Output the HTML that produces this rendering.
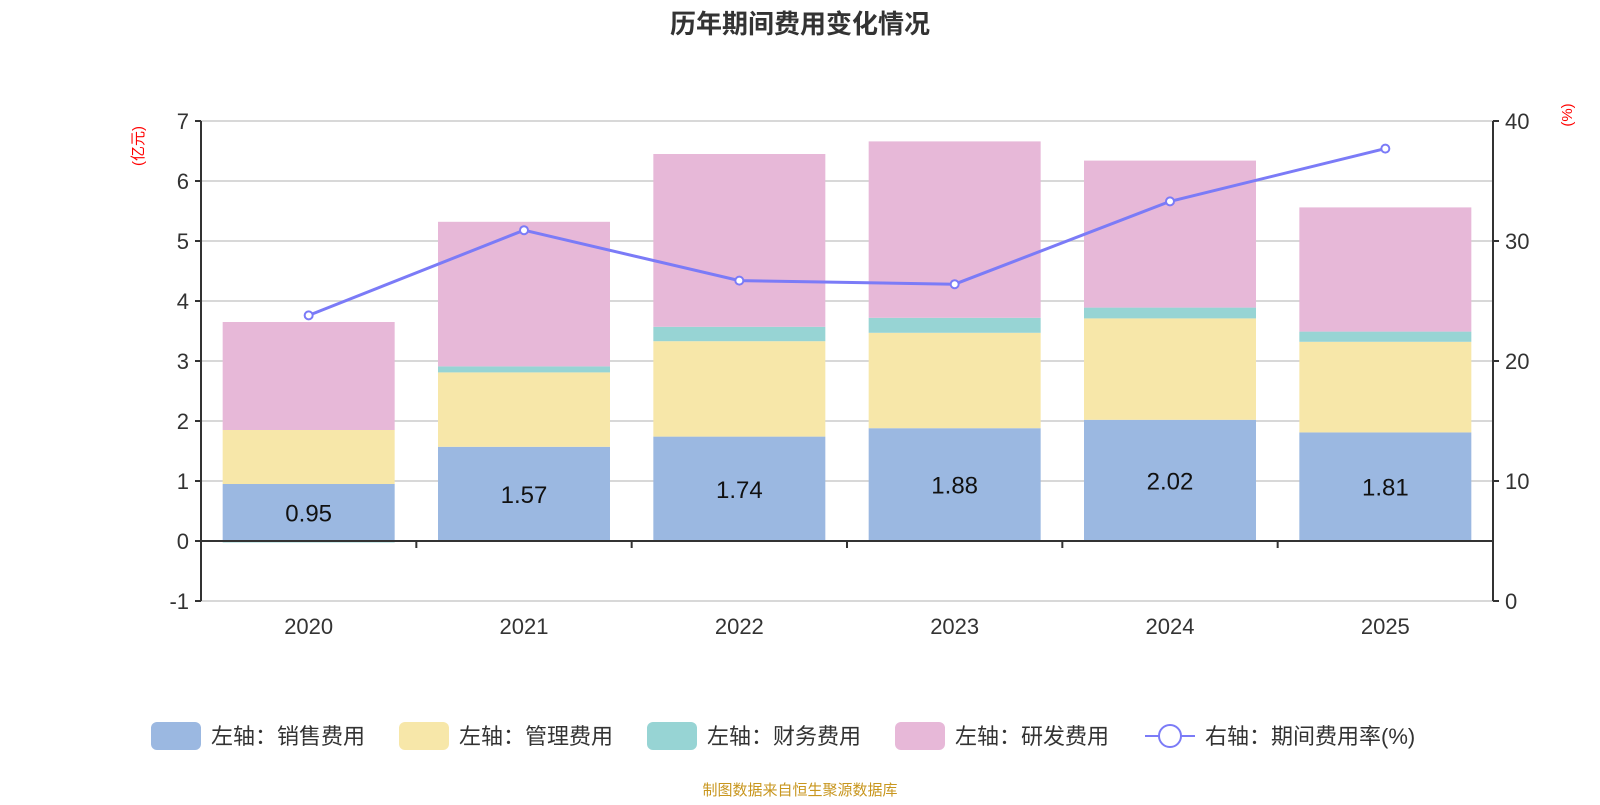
<!DOCTYPE html>
<html><head><meta charset="utf-8"><style>
body{margin:0;background:#fff;}
svg text{font-family:"Liberation Sans","Noto Sans CJK SC",sans-serif;}
</style></head><body>
<svg id="chart" width="1600" height="800" xmlns="http://www.w3.org/2000/svg">
<text x="800" y="33" text-anchor="middle" font-size="26" font-weight="bold" fill="#333">历年期间费用变化情况</text>
<text transform="translate(143,146) rotate(-90)" text-anchor="middle" font-size="15" fill="red">(亿元)</text>
<text transform="translate(1572,115) rotate(-90)" text-anchor="middle" font-size="15" fill="red">(%)</text>
<g id="grid"></g><g id="bars"></g><g id="axes"></g><g id="line"></g><g id="legend"></g>
<text x="800" y="795" text-anchor="middle" font-size="15" fill="#c8961e">制图数据来自恒生聚源数据库</text>
</svg>
<script>
const categories=["2020","2021","2022","2023","2024","2025"];
const sales=[0.95,1.57,1.74,1.88,2.02,1.81];
const admin=[0.90,1.24,1.59,1.59,1.69,1.51];
const finance=[-0.01,0.10,0.24,0.25,0.18,0.17];
const rnd=[1.80,2.41,2.88,2.94,2.45,2.07];
const rate=[23.8,30.9,26.7,26.4,33.3,37.7];
const leftTicks=[-1,0,1,2,3,4,5,6,7];
const rightTicks=[0,10,20,30,40];
const NS="http://www.w3.org/2000/svg";
const X0=201,X1=1493,CW=(X1-X0)/categories.length,BW=172;
const yL=v=>541-v*60, yR=v=>601-v*12, xC=i=>X0+CW*(i+0.5);
function mk(p,t,a){const e=document.createElementNS(NS,t);for(const k in a)e.setAttribute(k,a[k]);document.getElementById(p).appendChild(e);return e;}
leftTicks.forEach(v=>{
 if(v!==0){const g=mk("grid","line",{x1:X0,x2:X1,y1:yL(v),y2:yL(v),stroke:"#ccc","stroke-width":1.5});
 
 }
 const tk=mk("axes","line",{x1:X0-6,x2:X0,y1:yL(v),y2:yL(v),stroke:"#333","stroke-width":2});
 
 
 const t=mk("axes","text",{x:X0-12,y:yL(v)+8,"text-anchor":"end","font-size":22,fill:"#333"});t.textContent=v;
 
 
});
rightTicks.forEach(v=>{
 const tk=mk("axes","line",{x1:X1,x2:X1+6,y1:yR(v),y2:yR(v),stroke:"#333","stroke-width":2});
 
 
 const t=mk("axes","text",{x:X1+12,y:yR(v)+8,"font-size":22,fill:"#333"});t.textContent=v;
 
 
});
const series=[[sales,"#9bb8e1","sales"],[admin,"#f7e7a9","admin"],[finance,"#97d4d4","finance"],[rnd,"#e7b8d8","rnd"]];
categories.forEach((c,i)=>{
 let base=0,neg=0;
 series.forEach(([arr,col,nm])=>{
  const v=arr[i];let y0,y1;
  if(v>=0){y0=base;y1=base+v;base=y1;}else{y0=neg+v;y1=neg;neg=y0;}
  const r=mk("bars","rect",{x:xC(i)-BW/2,y:yL(y1),width:BW,height:Math.max(1.5,yL(y0)-yL(y1)),fill:col});
  
  
 });
 const t=mk("bars","text",{x:xC(i),y:yL(sales[i]/2)+9,"text-anchor":"middle","font-size":24,fill:"#111"});t.textContent=sales[i].toFixed(2);
 
 
 const xl=mk("axes","text",{x:xC(i),y:634,"text-anchor":"middle","font-size":22,fill:"#333"});xl.textContent=c;
 
 
 if(i>0){const tk=mk("axes","line",{x1:X0+CW*i,x2:X0+CW*i,y1:541,y2:548,stroke:"#333","stroke-width":2});
 
 }
});
[[X0,yL(-1),X0,yL(7)],[X1,yR(0),X1,yR(40)],[X0,541,X1,541]].forEach((a,k)=>{
 const l=mk("axes","line",{x1:a[0],y1:a[1],x2:a[2],y2:a[3],stroke:"#333","stroke-width":2});
 
 
});
const pl=mk("line","polyline",{points:rate.map((v,i)=>xC(i)+","+yR(v)).join(" "),fill:"none",stroke:"#7b7bf7","stroke-width":3});


rate.forEach((v,i)=>{const c=mk("line","circle",{cx:xC(i),cy:yR(v),r:4,fill:"#fff",stroke:"#7b7bf7","stroke-width":2});
 
 });
const leg=[["左轴：销售费用","#9bb8e1",151],["左轴：管理费用","#f7e7a9",399],["左轴：财务费用","#97d4d4",647],["左轴：研发费用","#e7b8d8",895]];
leg.forEach(([n,c,x])=>{
 const r=mk("legend","rect",{x:x,y:722,width:50,height:28,rx:6,fill:c});
 
 
 const t=mk("legend","text",{x:x+60,y:744,"font-size":22,fill:"#333"});t.textContent=n;
 
 
});
const ll=mk("legend","line",{x1:1145,x2:1195,y1:736,y2:736,stroke:"#7b7bf7","stroke-width":2});


const lc=mk("legend","circle",{cx:1170,cy:736,r:11,fill:"#fff",stroke:"#7b7bf7","stroke-width":2});


const lt=mk("legend","text",{x:1205,y:744,"font-size":22,fill:"#333"});lt.textContent="右轴：期间费用率(%)";


</script>
</body></html>
